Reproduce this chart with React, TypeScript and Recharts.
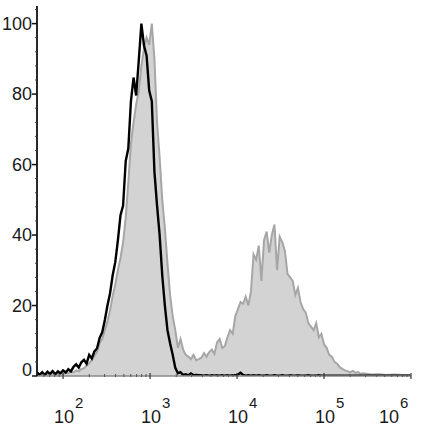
import { ComposedChart, Area, Line, XAxis, YAxis } from "recharts";

// log10 of fluorescence intensity (channel centres)
const logChannel = [
  1.70, 1.73, 1.76, 1.79, 1.82, 1.85, 1.88, 1.91, 1.94, 1.97,
  2.00, 2.03, 2.06, 2.09, 2.12, 2.15, 2.18, 2.21, 2.24, 2.27,
  2.30, 2.33, 2.36, 2.39, 2.42, 2.45, 2.48, 2.51, 2.54, 2.57,
  2.60, 2.63, 2.66, 2.69, 2.72, 2.75, 2.78, 2.81, 2.84, 2.87,
  2.90, 2.93, 2.96, 2.99, 3.02, 3.05, 3.08, 3.11, 3.14, 3.17,
  3.20, 3.23, 3.26, 3.29, 3.32, 3.35, 3.38, 3.41, 3.44, 3.47,
  3.50, 3.53, 3.56, 3.59, 3.62, 3.65, 3.68, 3.71, 3.74, 3.77,
  3.80, 3.83, 3.86, 3.89, 3.92, 3.95, 3.98, 4.01, 4.04, 4.07,
  4.10, 4.13, 4.16, 4.19, 4.22, 4.25, 4.28, 4.31, 4.34, 4.37,
  4.40, 4.43, 4.46, 4.49, 4.52, 4.55, 4.58, 4.61, 4.64, 4.67,
  4.70, 4.73, 4.76, 4.79, 4.82, 4.85, 4.88, 4.91, 4.94, 4.97,
  5.00, 5.03, 5.06, 5.09, 5.12, 5.15, 5.18, 5.21, 5.24, 5.27,
  5.30, 5.33, 5.36, 5.39, 5.42, 5.45, 5.54, 5.63, 5.72, 5.81,
  5.90, 5.99,
];

// stained sample (grey filled histogram), % of max
const stained = [
  0.3, 0.5, 0.2, 0.6, 0.3, 0.7, 0.4, 0.8, 0.5, 0.9,
  0.6, 1.0, 0.8, 1.2, 1.0, 1.6, 1.3, 2.0, 2.2, 3.0,
  3.6, 4.5, 5.7, 6.8, 9.3, 10.5, 13.0, 15.5, 18.7, 22.7,
  26.0, 30.0, 33.5, 38.0, 45.0, 55.0, 66.0, 72.0, 77.0, 81.0,
  88.0, 93.0, 96.0, 94.0, 100, 90.0, 72.0, 62.0, 50.0, 42.0,
  32.0, 23.0, 17.0, 13.0, 8.0, 10.5, 7.5, 6.0, 5.5, 4.8,
  6.0, 4.5, 4.8, 5.2, 6.5, 5.5, 6.8, 7.5, 6.3, 9.5,
  10.5, 8.0, 8.5, 11.0, 13.0, 12.0, 17.0, 19.0, 21.0, 20.5,
  22.5, 20.0, 24.0, 34.5, 33.0, 37.0, 27.0, 38.5, 41.0, 35.0,
  40.0, 43.0, 30.0, 39.5, 38.0, 35.5, 29.0, 28.0, 27.0, 23.0,
  25.0, 21.0, 19.0, 18.0, 15.0, 14.0, 13.0, 15.0, 11.0, 12.0,
  9.0, 8.0, 6.0, 5.5, 4.0, 3.5, 2.5, 2.0, 1.6, 1.4,
  1.0, 1.5, 0.9, 1.1, 0.6, 0.8, 0.4, 0.5, 0.3, 0.4,
  0.3, 0.3,
];

// isotype control (black line), % of max
const isotype = [
  1.0, 0.4, 1.1, 0.3, 1.2, 0.6, 1.4, 0.5, 1.3, 0.8,
  1.6, 1.0, 1.9, 1.3, 2.6, 3.3, 2.4, 3.9, 4.6, 3.5,
  6.0, 5.0, 7.0, 7.8, 10.8, 12.4, 15.9, 20.0, 23.5, 28.6,
  32.3, 38.5, 45.6, 48.4, 61.0, 64.6, 78.0, 84.7, 79.6, 89.5,
  100, 93.8, 90.9, 81.0, 78.0, 58.0, 48.4, 40.0, 28.6, 20.0,
  13.0, 9.3, 6.0, 2.3, 0.8, 1.1, 0.3, 0.5, 0.2, 0.7,
  0.2, 0.3, 0.2, 0.2, 0.1, 0.2, 0.1, 0.2, 0.1, 0.2,
  0.1, 0.2, 0.1, 0.2, 0.1, 0.2, 0.2, 0.4, 0.9, 0.3,
  0.1, 0.2, 0.1, 0.2, 0.1, 0.2, 0.1, 0.1, 0.2, 0.1,
  0.1, 0.2, 0.1, 0.1, 0.2, 0.1, 0.1, 0.2, 0.1, 0.1,
  0.2, 0.1, 0.1, 0.1, 0.2, 0.1, 0.1, 0.1, 0.2, 0.1,
  0.1, 0.1, 0.1, 0.1, 0.1, 0.1, 0.1, 0.1, 0.1, 0.1,
  0.1, 0.1, 0.1, 0.1, 0.1, 0.1, 0.1, 0.1, 0.1, 0.1,
  0.1, 0.1,
];

const xDecades = [2, 3, 4, 5, 6];
const xMinorMult = [2, 3, 4, 5, 6, 7, 8, 9];
const yMajor = [0, 20, 40, 60, 80, 100];
const yMinorStep = 4;

const data = logChannel.map((x, i) => ({ x, stained: stained[i], isotype: isotype[i] }));

// minor ticks between decades (log positions)
const xMinor: number[] = [];
for (let d = 1; d < 6; d++) {
  for (const m of xMinorMult) {
    const v = d + Math.log10(m);
    if (v > 1.7) xMinor.push(v);
  }
}
const xTicks = [...xDecades, ...xMinor];

const yTicks: number[] = [];
for (let v = 0; v <= 104; v += yMinorStep) yTicks.push(v);

const FONT = "'Liberation Sans', Arial, sans-serif";

function XTick(props: any) {
  const { x, y, payload } = props;
  const v = payload.value;
  const major = xDecades.includes(v);
  if (!major) {
    return <line x1={x} x2={x} y1={y - 2} y2={y + 1} stroke="#555" strokeWidth={1} />;
  }
  const last = v === 6;
  const cx = last ? x - 22 : x + 1;
  return (
    <g>
      <line x1={x} x2={x} y1={y - 3} y2={y + 3} stroke="#333" strokeWidth={1.2} />
      <text x={cx} y={y + 47} textAnchor="middle" fontSize={18} fill="#1a1a1a" fontFamily={FONT}>10</text>
      <text x={cx + 11} y={y + 32} textAnchor="start" fontSize={15} fill="#1a1a1a" fontFamily={FONT}>{v}</text>
    </g>
  );
}

function YTick(props: any) {
  const { x, y, payload } = props;
  const v = payload.value;
  const major = yMajor.includes(v);
  if (!major) {
    return <line x1={x - 2} x2={x} y1={y} y2={y} stroke="#444" strokeWidth={1} />;
  }
  return (
    <g>
      <line x1={x - 5} x2={x} y1={y} y2={y} stroke="#111" strokeWidth={1.5} />
      <text x={x - 5} y={v === 0 ? y - 6 : y} textAnchor="end" dominantBaseline="central" fontSize={18} fill="#1a1a1a" fontFamily={FONT}>
        {v}
      </text>
    </g>
  );
}

export default function App() {
  return (
    <div style={{ position: "absolute", left: 0, top: 0, width: 421, height: 431, background: "#fff" }}>
      <ComposedChart width={421} height={431} data={data} margin={{ top: 6, right: 10, left: 0, bottom: 0 }}>
        <XAxis
          dataKey="x"
          type="number"
          domain={[1.7, 6]}
          ticks={xTicks}
          tick={<XTick />}
          tickLine={false}
          tickSize={0}
          tickMargin={0}
          height={55}
          axisLine={{ stroke: "#8a8a8a", strokeWidth: 1.5 }}
          interval={0}
          allowDataOverflow
        />
        <XAxis xAxisId="top" orientation="top" dataKey="x" type="number" domain={[1.7, 6]} height={0} tick={false} tickLine={false} axisLine={{ stroke: "#9a9a9a", strokeWidth: 1.5 }} />
        <YAxis
          type="number"
          domain={[0, 105]}
          ticks={yTicks}
          tick={<YTick />}
          tickLine={false}
          tickSize={0}
          tickMargin={0}
          width={37}
          axisLine={{ stroke: "#111", strokeWidth: 1.8 }}
          interval={0}
          allowDataOverflow
        />
        <YAxis yAxisId="right" orientation="right" type="number" domain={[0, 105]} width={0} tick={false} tickLine={false} axisLine={{ stroke: "#9a9a9a", strokeWidth: 1.8 }} />
        <Area
          type="linear"
          dataKey="stained"
          stroke="#a6a6a6"
          strokeWidth={2}
          fill="#d3d3d3"
          fillOpacity={1}
          isAnimationActive={false}
          dot={false}
          activeDot={false}
        />
        <Line
          type="linear"
          dataKey="isotype"
          stroke="#000"
          strokeWidth={2.4}
          dot={false}
          activeDot={false}
          isAnimationActive={false}
        />
      </ComposedChart>
    </div>
  );
}
